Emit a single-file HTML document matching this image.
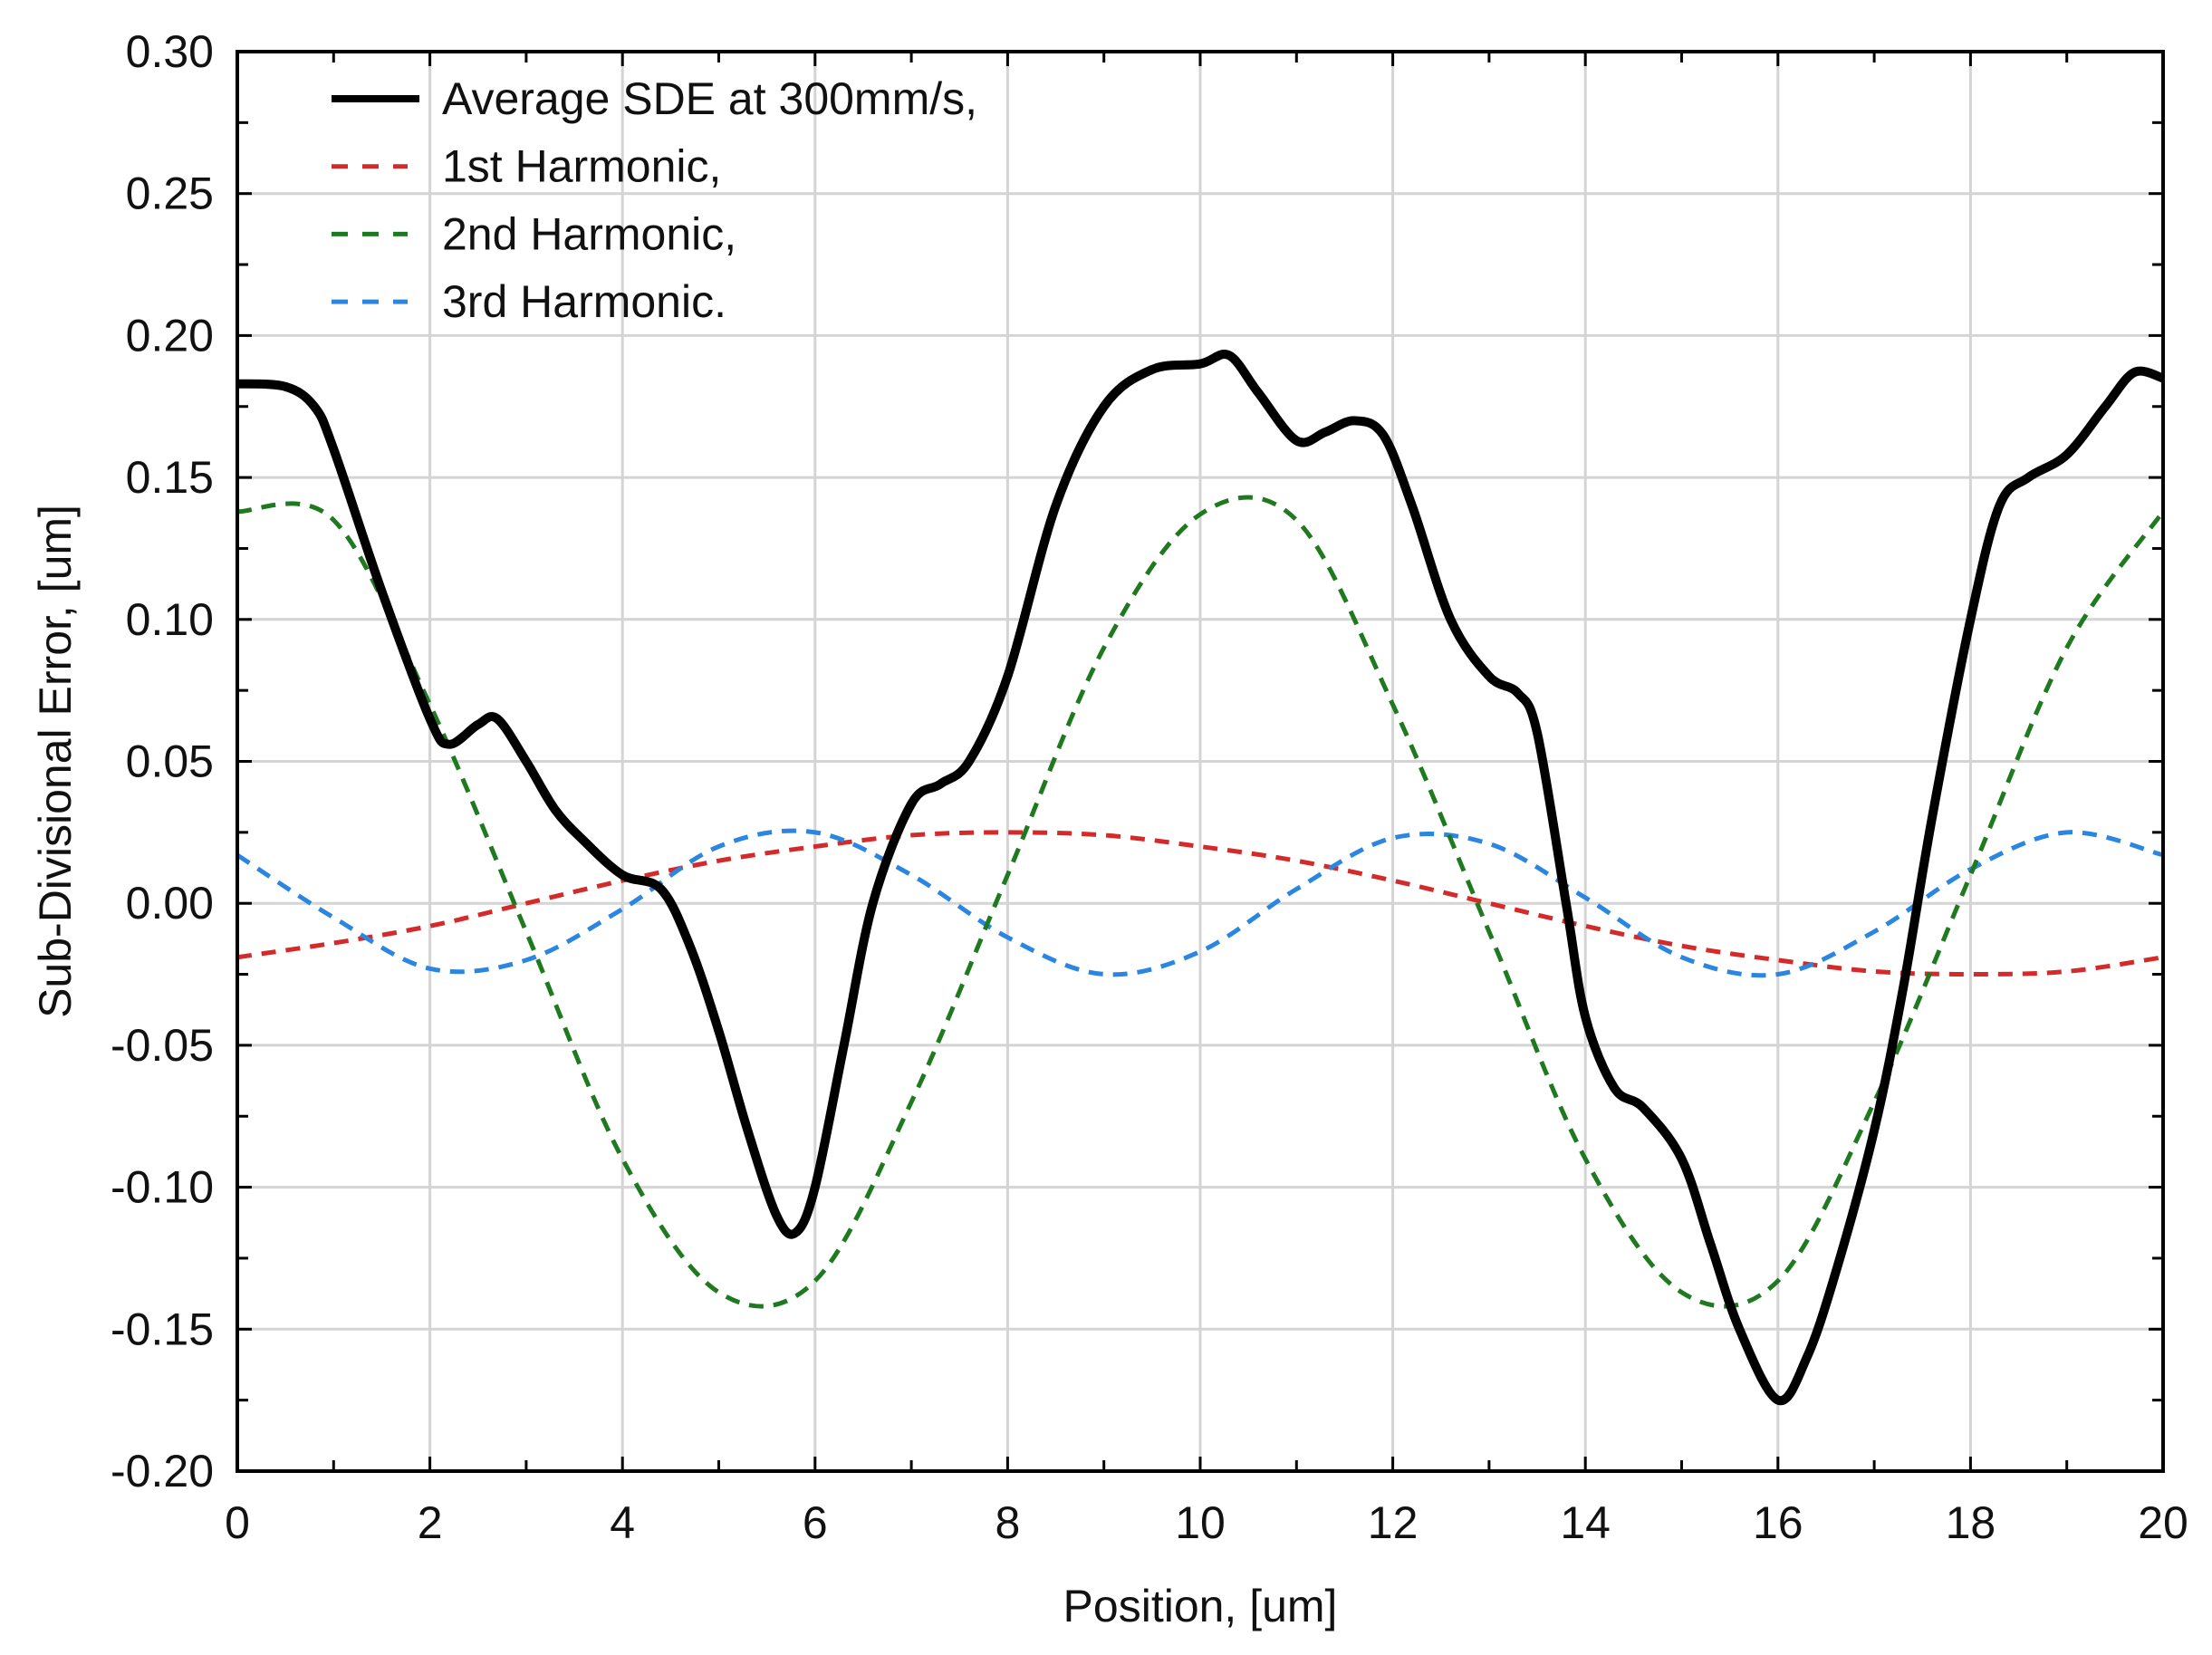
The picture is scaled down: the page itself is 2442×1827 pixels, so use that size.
<!DOCTYPE html>
<html><head><meta charset="utf-8"><style>
html,body{margin:0;padding:0;background:#fff;}
svg{display:block;font-family:"Liberation Sans",Arial,sans-serif;}
</style></head><body>
<svg id="chart" width="2442" height="1827" viewBox="0 0 2442 1827"></svg>
<script>
const xTicks=[0,2,4,6,8,10,12,14,16,18,20];
const yTicks=[-0.20,-0.15,-0.10,-0.05,0.00,0.05,0.10,0.15,0.20,0.25,0.30];
const yTickLabels=["-0.20","-0.15","-0.10","-0.05","0.00","0.05","0.10","0.15","0.20","0.25","0.30"];
const sdeX=[0,0.5,0.8,1,1.5,2,2.2,2.5,2.7,3,3.3,3.6,4,4.4,4.7,5,5.3,5.6,5.8,6,6.3,6.6,7,7.3,7.6,8,8.5,9,9.5,10,10.3,10.6,11,11.3,11.6,11.9,12.2,12.6,13,13.3,13.5,13.8,14,14.3,14.6,15,15.3,15.6,16,16.3,16.6,17,17.3,17.6,18,18.3,18.6,19,19.4,19.7,20];
const sdeY=[0.183,0.182,0.175,0.16,0.11,0.065,0.056,0.063,0.065,0.05,0.033,0.022,0.01,0.005,-0.015,-0.045,-0.08,-0.11,-0.116,-0.1,-0.05,0.0,0.035,0.042,0.05,0.08,0.14,0.175,0.188,0.19,0.193,0.18,0.163,0.166,0.17,0.165,0.14,0.1,0.08,0.074,0.06,0.0,-0.04,-0.065,-0.072,-0.09,-0.12,-0.15,-0.175,-0.16,-0.13,-0.08,-0.03,0.03,0.1,0.14,0.15,0.158,0.175,0.187,0.185];
const harmX=[0,1,2,3,4,5,6,7,8,9,10,11,12,13,14,15,16,17,18,19,20];
const h1Y=[-0.019,-0.014,-0.008,0.0,0.008,0.015,0.02,0.024,0.025,0.024,0.02,0.015,0.008,0.0,-0.008,-0.015,-0.02,-0.024,-0.025,-0.024,-0.019];
const h2Y=[0.138,0.135,0.07,-0.01,-0.09,-0.137,-0.133,-0.07,0.01,0.09,0.137,0.135,0.07,-0.01,-0.09,-0.137,-0.133,-0.07,0.01,0.09,0.138];
const h3Y=[0.017,-0.005,-0.023,-0.02,-0.002,0.02,0.025,0.01,-0.012,-0.025,-0.017,0.005,0.023,0.021,0.002,-0.019,-0.025,-0.01,0.012,0.025,0.017];

const L=262,R=2388,T=57,B=1624;
const sx=v=>L+(v-0)/(20-0)*(R-L);
const sy=v=>B-(v+0.2)/(0.5)*(B-T);
const svg=document.getElementById('chart');
const NS='http://www.w3.org/2000/svg';
function mk(tag,attrs,parent){const e=document.createElementNS(NS,tag);for(const k in attrs)e.setAttribute(k,attrs[k]);(parent||svg).appendChild(e);return e;}

const grid=mk('g',{});


xTicks.forEach(v=>{const l=mk('line',{x1:sx(v),x2:sx(v),y1:T,y2:B,stroke:'#d4d4d4','stroke-width':3},grid);

});
yTicks.forEach(v=>{const l=mk('line',{x1:L,x2:R,y1:sy(v),y2:sy(v),stroke:'#d4d4d4','stroke-width':3},grid);

});

const ticks=mk('g',{stroke:'#000','stroke-width':3});


for(let v=0;v<=20;v+=1){const len=(v%2===0)?16:12;
mk('line',{x1:sx(v),x2:sx(v),y1:B,y2:B-len},ticks);mk('line',{x1:sx(v),x2:sx(v),y1:T,y2:T+len},ticks);}
for(let i=0;i<=20;i++){const v=-0.2+i*0.025;const len=(i%2===0)?16:12;
mk('line',{x1:L,x2:L+len,y1:sy(v),y2:sy(v)},ticks);mk('line',{x1:R,x2:R-len,y1:sy(v),y2:sy(v)},ticks);}

xTicks.forEach(v=>{const t=mk('text',{x:sx(v),y:B+74,'text-anchor':'middle','font-size':50,fill:'#111'});t.textContent=String(v);

});
yTicks.forEach((v,i)=>{const t=mk('text',{x:L-26,y:sy(v)+17,'text-anchor':'end','font-size':50,fill:'#111'});t.textContent=yTickLabels[i];

});

function pathFrom(xs,ys,smooth){let d='';const P=xs.map((x,i)=>[sx(x),sy(ys[i])]);
if(!smooth){P.forEach((p,i)=>d+=(i?'L':'M')+p[0].toFixed(1)+','+p[1].toFixed(1));return d;}
d='M'+P[0][0]+','+P[0][1];
for(let i=0;i<P.length-1;i++){const p0=P[Math.max(0,i-1)],p1=P[i],p2=P[i+1],p3=P[Math.min(P.length-1,i+2)];
const c1=[p1[0]+(p2[0]-p0[0])/6,p1[1]+(p2[1]-p0[1])/6],c2=[p2[0]-(p3[0]-p1[0])/6,p2[1]-(p3[1]-p1[1])/6];
d+='C'+c1[0].toFixed(1)+','+c1[1].toFixed(1)+' '+c2[0].toFixed(1)+','+c2[1].toFixed(1)+' '+p2[0].toFixed(1)+','+p2[1].toFixed(1);}
return d;}
const clip=mk('clipPath',{id:'pc'});mk('rect',{x:L,y:T,width:R-L,height:B-T},clip);
const series=mk('g',{'clip-path':'url(#pc)'});
const p1=mk('path',{d:pathFrom(harmX,h1Y,true),fill:'none',stroke:'#d42a2a','stroke-width':5,'stroke-dasharray':'16 11'},series);


const p3=mk('path',{d:pathFrom(harmX,h3Y,true),fill:'none',stroke:'#2a86e0','stroke-width':5,'stroke-dasharray':'16 11'},series);


const p2=mk('path',{d:pathFrom(harmX,h2Y,true),fill:'none',stroke:'#1f7a1f','stroke-width':5,'stroke-dasharray':'16 11'},series);


const p0=mk('path',{d:pathFrom(sdeX,sdeY,true),fill:'none',stroke:'#000','stroke-width':10,'stroke-linejoin':'round'},series);



const fr=mk('rect',{x:L,y:T,width:R-L,height:B-T,fill:'none',stroke:'#000','stroke-width':4});



const legendItems=[["Average SDE at 300mm/s,","#000",0],["1st Harmonic,","#d42a2a",1],["2nd Harmonic,","#1f7a1f",1],["3rd Harmonic.","#2a86e0",1]];
const lg=mk('g',{});


legendItems.forEach((it,i)=>{const y=109+i*74.7;
const g=mk('g',{},lg);


mk('line',{x1:366,x2:it[2]?450:463,y1:y,y2:y,stroke:it[1],'stroke-width':it[2]?5:8,'stroke-dasharray':it[2]?'18 16':'none'},g);
const t=mk('text',{x:488,y:y+17,'font-size':50,fill:'#111'},g);t.textContent=it[0];});

const xt=mk('text',{x:(L+R)/2,y:1790,'text-anchor':'middle','font-size':50,fill:'#111'});xt.textContent='Position, [um]';


const yt=mk('text',{x:0,y:0,'text-anchor':'middle','font-size':50,fill:'#111',transform:'translate(78,'+((T+B)/2)+') rotate(-90)'});yt.textContent='Sub-Divisional Error, [um]';


</script>
</body></html>
